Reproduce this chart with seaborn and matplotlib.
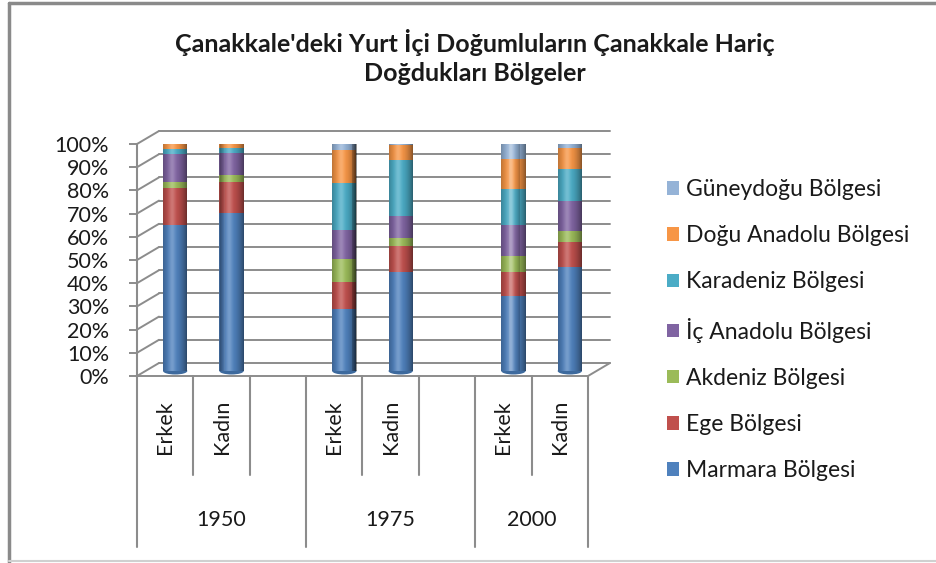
import numpy as np
import pandas as pd
import matplotlib
matplotlib.use("Agg")
import matplotlib.pyplot as plt
import matplotlib.transforms as mtransforms
from matplotlib.patches import Rectangle, Ellipse, Patch
from matplotlib.lines import Line2D
import seaborn as sns

# --- veriler (yüzde) ---
yillar = ["1950", "1975", "2000"]
cinsiyet = ["Erkek", "Kadın", "Erkek", "Kadın", "Erkek", "Kadın"]
slotlar = [0, 1, 3, 4, 6, 7]          # 8 yuvalı kategori ekseninde çubuk yerleri
bolgeler = ["Marmara Bölgesi", "Ege Bölgesi", "Akdeniz Bölgesi", "İç Anadolu Bölgesi",
            "Karadeniz Bölgesi", "Doğu Anadolu Bölgesi", "Güneydoğu Bölgesi"]
marmara = [63.0, 68.0, 26.7, 42.7, 32.5, 44.8]
ege = [16.0, 13.3, 11.7, 11.1, 10.2, 10.9]
akdeniz = [2.5, 3.2, 9.7, 3.5, 6.8, 4.7]
ic_anadolu = [12.2, 9.5, 12.8, 9.5, 13.5, 12.8]
karadeniz = [2.2, 2.3, 20.1, 24.1, 15.4, 13.7]
dogu_anadolu = [2.8, 2.0, 14.2, 6.4, 12.9, 9.4]
guneydogu = [1.3, 1.7, 4.8, 2.7, 8.7, 3.7]
renkler = ["#4F81BD", "#C0504D", "#9BBB59", "#8064A2", "#4BACC6", "#F79646", "#95B3D7"]

seriler = [marmara, ege, akdeniz, ic_anadolu, karadeniz, dogu_anadolu, guneydogu]

# uzun tablo, kümülatif değerlerle
kayitlar = []
for bolge, degerler in zip(bolgeler, seriler):
    for s, v in zip(slotlar, degerler):
        kayitlar.append({"slot": s, "bolge": bolge, "deger": v})
df = pd.DataFrame(kayitlar)
df["kum"] = df.groupby("slot")["deger"].cumsum()

sns.set_style("white")
plt.rcParams["font.family"] = ["Lato", "DejaVu Sans"]
YAZI = "#1a1a1a"
GRI = "#8c8c8c"

fig = plt.figure(figsize=(9.37, 5.63), dpi=100)
W, H = 937, 563
ax = fig.add_axes([137 / W, (H - 376) / H, 451 / W, 232 / H])
ax.set_xlim(-0.5, 7.5)
ax.set_ylim(0, 100)

px_x = 8 / 451        # veri birimi / piksel (x)
px_y = 100 / 232      # veri birimi / piksel (y)
arka_dx, arka_dy = 22 * px_x, 13 * px_y

# arka duvar ızgarası, sol duvar ve taban
for v in range(0, 101, 10):
    ax.plot([-0.5 + arka_dx, 7.5 + arka_dx], [v + arka_dy] * 2, color=GRI, lw=1.4,
            clip_on=False, zorder=0)
    ax.plot([-0.5, -0.5 + arka_dx], [v, v + arka_dy], color=GRI, lw=1.4,
            clip_on=False, zorder=0)
ax.plot([-0.5, 7.5, 7.5 + arka_dx], [0, 0, arka_dy], color=GRI, lw=1.4,
        clip_on=False, zorder=0)

# çubuklar: üstten alta kümülatif
bar_off = mtransforms.ScaledTranslation(10 / 100, 5 / 100, fig.dpi_scale_trans)
for bolge, renk in reversed(list(zip(bolgeler, renkler))):
    sns.barplot(data=df[df["bolge"] == bolge], x="slot", y="kum", native_scale=True,
                width=0.43, color=renk, saturation=1, edgecolor="none", ax=ax,
                errorbar=None)
for p in ax.patches:
    p.set_transform(ax.transData + bar_off)
    p.set_zorder(2)

# silindir gölgesi ve kapaklar
n = 24
gen = 0.43
for s in slotlar:
    x0 = s - gen / 2
    for i in range(n):
        t = (i + 0.5) / n
        koyu = 0.45 * ((t - 0.42) / 0.58) ** 2
        parlak = 0.22 * np.exp(-((t - 0.38) / 0.14) ** 2)
        for c, a in (("black", koyu), ("white", parlak)):
            r = Rectangle((x0 + i * gen / n, 0), gen / n + 0.002, 100, facecolor=c,
                          edgecolor="none", alpha=a, zorder=3)
            r.set_transform(ax.transData + bar_off)
            ax.add_patch(r)
    alt = Ellipse((s, 0), gen, 7 * px_y, facecolor="#3d6a9e", edgecolor="none", zorder=1)
    ust = Ellipse((s, 100), gen, 7 * px_y, facecolor="#b7cbe6", edgecolor="#7f9fc8",
                  lw=0.6, zorder=4)
    for e in (alt, ust):
        e.set_transform(ax.transData + bar_off)
        ax.add_patch(e)

# eksenler
sns.despine(ax=ax, top=True, right=True, bottom=True, left=False)
ax.spines["left"].set_color(GRI)
ax.spines["left"].set_linewidth(1.5)
ax.set_yticks(range(0, 101, 10))
ax.set_yticklabels([f"{v}%" for v in range(0, 101, 10)], fontsize=15.5, color=YAZI)
ax.tick_params(axis="y", length=6, width=1.4, color=GRI, pad=14, left=True)
ax.set_xticks([])
ax.set_xlabel("")
ax.set_ylabel("")

# iki düzeyli kategori ekseni
kisa, uzun = -42.7, -73.7
for b in [0.5, 1.5, 3.5, 4.5, 6.5]:
    ax.plot([b, b], [0, kisa], color=GRI, lw=1.5, clip_on=False)
for b in [-0.5, 2.5, 5.5, 7.5]:
    ax.plot([b, b], [0, uzun], color=GRI, lw=1.5, clip_on=False)
for s, c in zip(slotlar, cinsiyet):
    ax.text(s, -22, c, rotation=90, ha="center", va="center", fontsize=15.5, color=YAZI,
            clip_on=False)
for merkez, yil in zip([1.0, 4.0, 6.5], yillar):
    ax.text(merkez, -62, yil, ha="center", va="center", fontsize=15.5, color=YAZI,
            clip_on=False)

# başlık
fig.text(475 / W, 1 - 57 / H, "Çanakkale'deki Yurt İçi Doğumluların Çanakkale Hariç\nDoğdukları Bölgeler",
         ha="center", va="center", fontsize=18, fontweight="bold", color=YAZI, linespacing=1.3)

# gösterge
tutamaklar = [Patch(facecolor=r, edgecolor="none") for r in renkler][::-1]
fig.legend(tutamaklar, bolgeler[::-1], loc="upper left", bbox_to_anchor=(667 / W, 1 - 179 / H),
           frameon=False, fontsize=16.5, labelspacing=1.1, handlelength=0.52, handleheight=0.52,
           handletextpad=0.3, borderaxespad=0, borderpad=0, labelcolor=YAZI)

# dış çerçeve
fig.add_artist(Line2D([9 / W, 1], [1 - 3 / H] * 2, color="#8a8a8a", lw=2.5))
fig.add_artist(Line2D([9 / W] * 2, [0, 1 - 3 / H], color="#8a8a8a", lw=2.5))
fig.add_artist(Line2D([9 / W, 1], [2 / H] * 2, color="#d0d0d0", lw=1.5))

fig.savefig("out.png", dpi=100)
